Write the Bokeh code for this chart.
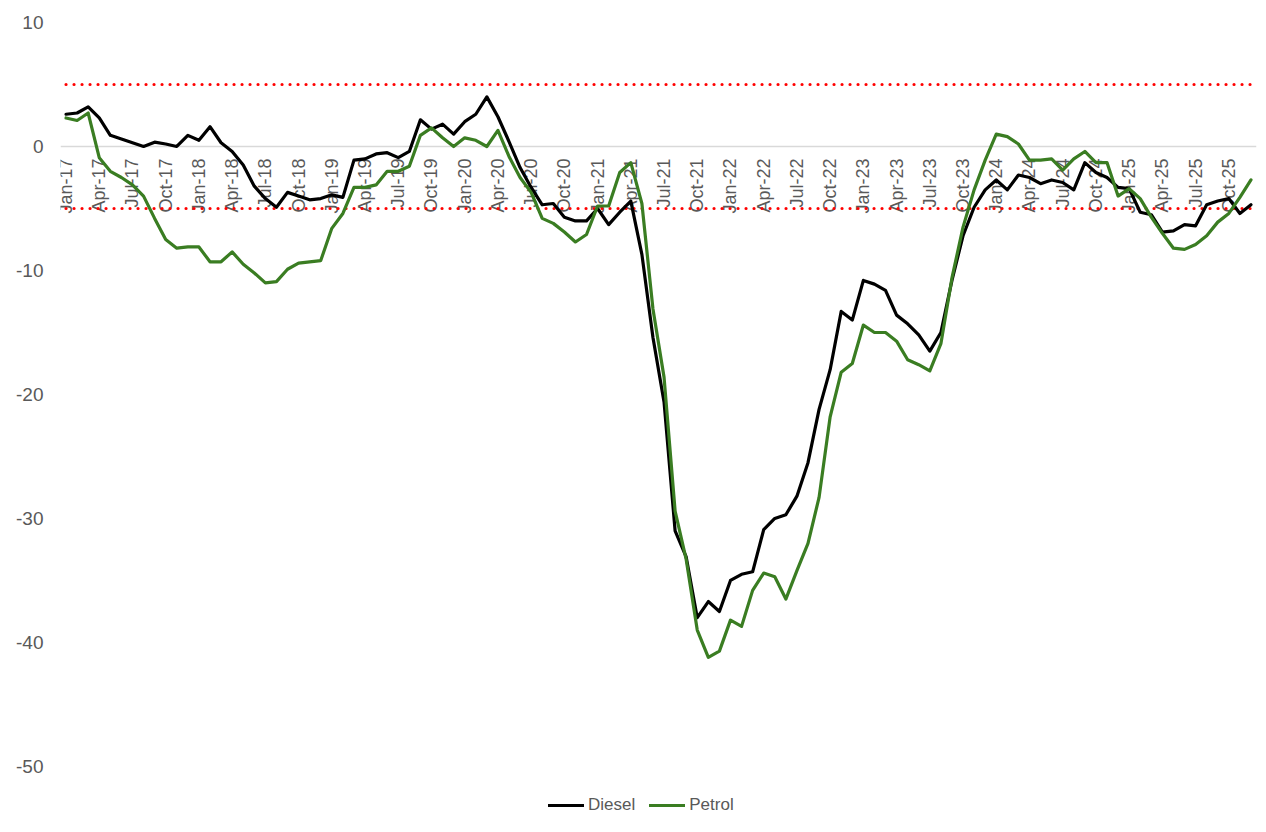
import math
from bokeh.plotting import figure
from bokeh.models import Range1d, FixedTicker, Span, Legend, LegendItem, ColumnDataSource, PrintfTickFormatter
from bokeh.embed import file_html
from bokeh.resources import INLINE
from bokeh.core.properties import value

MONTH_ABBR = ["Jan", "Feb", "Mar", "Apr", "May", "Jun", "Jul", "Aug", "Sep", "Oct", "Nov", "Dec"]
YEARS = ["17", "18", "19", "20", "21", "22", "23", "24", "25"]
CATEGORIES = [f"{m}-{y}" for y in YEARS for m in MONTH_ABBR]

DIESEL = [
    2.6, 2.7, 3.2, 2.3, 0.9, 0.6, 0.3, 0.0, 0.35, 0.2, 0.0, 0.9,
    0.5, 1.6, 0.3, -0.4, -1.5, -3.2, -4.2, -4.9, -3.7, -4.0, -4.3, -4.2,
    -3.9, -4.1, -1.1, -1.0, -0.6, -0.5, -0.9, -0.4, 2.15, 1.4, 1.8, 1.0,
    2.0, 2.6, 4.0, 2.4, 0.4, -1.7, -3.3, -4.7, -4.6, -5.7, -6.0, -6.0,
    -5.0, -6.3, -5.3, -4.4, -8.7, -15.4, -20.6, -31.0, -33.1, -38.0, -36.7, -37.5,
    -35.0, -34.5, -34.3, -30.9, -30.0, -29.7, -28.2, -25.5, -21.2, -18.0, -13.3, -14.0,
    -10.8, -11.1, -11.6, -13.6, -14.3, -15.2, -16.5, -15.0, -10.8, -7.2, -4.9, -3.5,
    -2.7, -3.5, -2.3, -2.5, -3.0, -2.7, -2.9, -3.5, -1.3, -2.1, -2.5, -3.3,
    -3.4, -5.3, -5.5, -6.9, -6.8, -6.3, -6.4, -4.7, -4.4, -4.2, -5.4, -4.7,
]
PETROL = [
    2.3, 2.1, 2.7, -0.9, -2.0, -2.5, -3.1, -4.0, -5.8, -7.5, -8.2, -8.1,
    -8.1, -9.3, -9.3, -8.5, -9.5, -10.2, -11.0, -10.9, -9.9, -9.4, -9.3, -9.2,
    -6.6, -5.4, -3.3, -3.3, -3.1, -2.0, -2.0, -1.6, 0.9, 1.5, 0.7, 0.0,
    0.7, 0.5, 0.0, 1.3, -0.8, -2.5, -3.7, -5.8, -6.2, -6.9, -7.7, -7.1,
    -4.8, -4.8, -2.1, -1.3, -4.6, -13.1, -18.6, -29.4, -33.3, -39.0, -41.2, -40.7,
    -38.2, -38.7, -35.8, -34.4, -34.7, -36.5, -34.2, -32.0, -28.3, -21.8, -18.2, -17.5,
    -14.4, -15.0, -15.0, -15.7, -17.2, -17.6, -18.1, -15.9, -10.6, -6.5, -3.5, -1.1,
    1.0, 0.8, 0.2, -1.1, -1.1, -1.0, -1.9, -1.0, -0.4, -1.3, -1.3, -4.0,
    -3.4, -4.2, -5.7, -7.0, -8.2, -8.3, -7.9, -7.2, -6.1, -5.4, -4.1, -2.7,
]
THRESHOLDS = [5, -5]
Y_TICKS = [-50, -40, -30, -20, -10, 0, 10]
LABEL_STEP = 3

FONT = "Liberation Sans"
GREY = "#595959"

n = len(CATEGORIES)
xs = list(range(n))

p = figure(
    width=1260, height=824,
    x_range=Range1d(-0.5, n - 0.5),
    y_range=Range1d(-54.68, 10),
    output_backend="svg", toolbar_location=None,
    x_axis_location=None,
    min_border_left=60, min_border_right=4, min_border_top=22, min_border_bottom=0,
)
p.outline_line_color = None
p.grid.visible = False
p.background_fill_color = "white"
p.border_fill_color = "white"

ax = p.yaxis[0]
ax.ticker = FixedTicker(ticks=Y_TICKS)
ax.formatter = PrintfTickFormatter(format="%d")
ax.axis_line_color = None
ax.major_tick_line_color = None
ax.minor_tick_line_color = None
ax.major_tick_in = 0
ax.major_tick_out = 0
ax.major_label_standoff = 17
ax.major_label_text_font_size = "19px"
ax.major_label_text_color = GREY
ax.major_label_text_font = FONT

zero = Span(location=0, dimension="width", line_color="#D9D9D9", line_width=1.5, level="underlay")
p.add_layout(zero)

lab_src = ColumnDataSource(dict(
    x=xs[::LABEL_STEP],
    y=[0] * len(xs[::LABEL_STEP]),
    text=CATEGORIES[::LABEL_STEP],
))
p.text(x="x", y="y", text="text", source=lab_src, angle=math.pi / 2,
       text_align="right", text_baseline="middle", y_offset=12,
       text_font_size="18px", text_color=GREY, text_font=value(FONT))

for t in THRESHOLDS:
    p.segment(x0=[xs[0]], x1=[xs[-1]], y0=[t], y1=[t], line_color="#FF0000",
              line_width=3.2, line_dash="0 8", line_cap="round")

r_d = p.line(xs, DIESEL, line_color="black", line_width=3.2, line_join="round", line_cap="round")
r_p = p.line(xs, PETROL, line_color="#3A7D22", line_width=3.2, line_join="round", line_cap="round")

legend = Legend(
    items=[LegendItem(label="Diesel", renderers=[r_d]), LegendItem(label="Petrol", renderers=[r_p])],
    orientation="horizontal", location=(488, 9),
    border_line_color=None, background_fill_alpha=0,
    padding=0, margin=0, spacing=14, glyph_width=36, glyph_height=20,
    label_standoff=4, label_height=20,
    label_text_font_size="17px", label_text_color=GREY, label_text_font=FONT,
)
p.add_layout(legend)

open("out.html", "w").write(file_html(p, INLINE))
